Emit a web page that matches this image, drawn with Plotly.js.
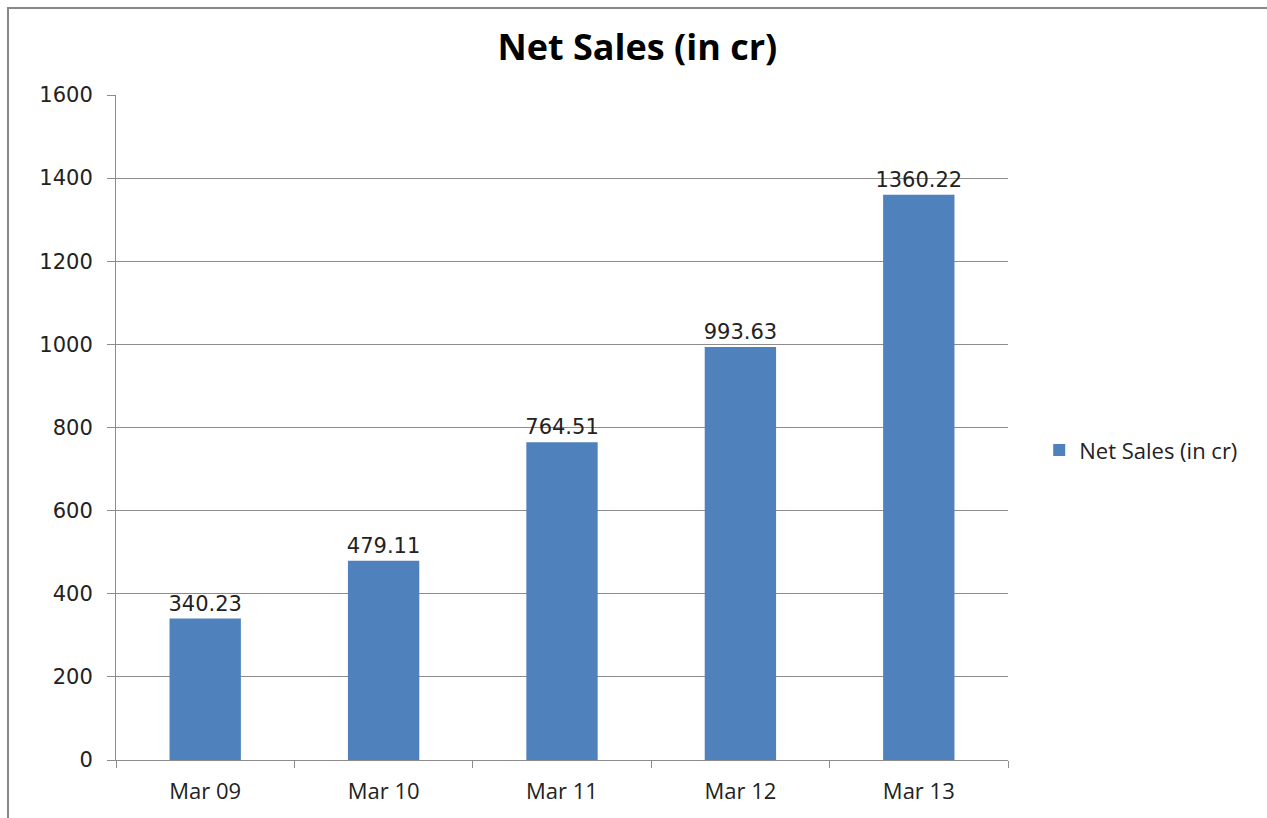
<!DOCTYPE html>
<html>
<head>
<meta charset="utf-8">
<script src="https://cdn.plot.ly/plotly-3.0.1.min.js"></script>
<style>
html,body{margin:0;padding:0;overflow:hidden;background:#fff;}
#wrap{position:relative;width:1267px;height:818px;}
#frame{position:absolute;left:7px;top:7px;width:1300px;height:900px;border:2px solid #878787;pointer-events:none;z-index:5;}
#chart{position:absolute;left:0;top:0;width:1267px;height:818px;}
</style>
</head>
<body>
<div id="wrap"><div id="chart"></div><div id="frame"></div></div>
<script>
const categories = ["Mar 09", "Mar 10", "Mar 11", "Mar 12", "Mar 13"];
const netSales = [340.23, 479.11, 764.51, 993.63, 1360.22];
const seriesName = "Net Sales (in cr)";
const yTicks = [0, 200, 400, 600, 800, 1000, 1200, 1400, 1600];

const trace = {
  type: "bar",
  x: categories,
  y: netSales,
  name: seriesName,
  marker: {color: "#4F81BD"},
  width: 0.4,
  text: netSales.map(v => v.toFixed(2)),
  textposition: "outside",
  constraintext: "none",
  textfont: {family: "DejaVu Sans", size: 21, color: "#222"},
  cliponaxis: false,
  hoverinfo: "none"
};

const layout = {
  width: 1267, height: 818,
  margin: {l: 116, r: 259, t: 95, b: 58},
  paper_bgcolor: "#fff", plot_bgcolor: "#fff",
  title: {text: "<b>Net Sales (in cr)</b>", x: 0.503, xanchor: "center", y: 0.942, yanchor: "middle",
          font: {family: "Open Sans", size: 36, color: "#000"}},
  showlegend: true,
  legend: {x: 1.035, xanchor: "left", y: 0.466, yanchor: "middle",
           font: {family: "Open Sans", size: 22, color: "#222"}},
  xaxis: {
    type: "category",
    showline: true, linecolor: "#8c8c8c", linewidth: 1,
    ticks: "outside", tickson: "boundaries", ticklen: 7, tickcolor: "#8c8c8c",
    tickfont: {family: "Open Sans", size: 22, color: "#222"},
    showgrid: false, zeroline: false, ticklabelstandoff: 12
  },
  yaxis: {
    range: [0, 1600], tickvals: yTicks, ticktext: yTicks.map(String),
    showline: true, linecolor: "#8c8c8c", linewidth: 1,
    ticks: "outside", ticklen: 8, tickcolor: "#8c8c8c",
    showgrid: true, gridcolor: "#8c8c8c", gridwidth: 1,
    zeroline: false,
    tickfont: {family: "DejaVu Sans", size: 21, color: "#222"},
    ticklabelstandoff: 10
  },
  bargap: 0.6
};

Plotly.newPlot("chart", [trace], layout, {displayModeBar: false, staticPlot: true});
</script>
</body>
</html>
